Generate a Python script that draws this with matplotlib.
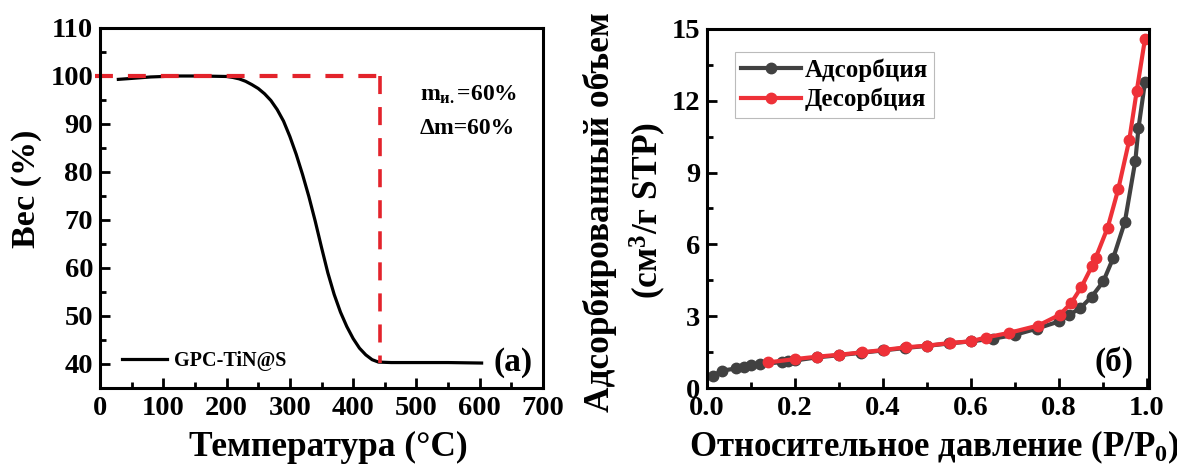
import matplotlib
matplotlib.use("Agg")
import matplotlib.pyplot as plt
from matplotlib.ticker import MultipleLocator, FormatStrFormatter

plt.rcParams['font.family'] = ['Liberation Serif', 'DejaVu Serif']
plt.rcParams['font.weight'] = 'bold'
plt.rcParams['mathtext.fontset'] = 'custom'
plt.rcParams['mathtext.rm'] = 'Liberation Serif:bold'
plt.rcParams['mathtext.it'] = 'Liberation Serif:bold'
plt.rcParams['mathtext.bf'] = 'Liberation Serif:bold'

# ---- TGA data ----
tga_temp = [29, 50, 80, 120, 157, 200, 210, 220, 230, 240, 250, 260, 270, 280, 290,
            300, 310, 320, 330, 340, 350, 360, 370, 380, 390, 400, 410, 420, 430, 440,
            460, 500, 550, 603]
tga_weight = [99.3, 99.5, 99.8, 100.0, 100.0, 99.9, 99.7, 99.4, 98.9, 98.2, 97.4, 96.3,
              94.9, 93.0, 90.6, 87.4, 83.7, 79.5, 74.9, 69.8, 64.3, 59.0, 54.5, 50.8,
              47.8, 45.3, 43.3, 41.9, 40.9, 40.4, 40.3, 40.3, 40.3, 40.2]
tga_label = 'GPC-TiN@S'
mark_temp = 442
mark_weight = 100.1
final_weight = 40.3

# ---- BET isotherm data ----
ads_p = [0.013, 0.033, 0.067, 0.083, 0.100, 0.120, 0.170, 0.184, 0.200, 0.250, 0.300,
         0.350, 0.400, 0.450, 0.500, 0.550, 0.600, 0.650, 0.700, 0.750, 0.800, 0.824,
         0.849, 0.875, 0.901, 0.924, 0.950, 0.974, 0.981, 0.996]
ads_v = [0.50, 0.72, 0.82, 0.89, 0.96, 1.00, 1.08, 1.11, 1.15, 1.28, 1.37,
         1.47, 1.57, 1.67, 1.76, 1.86, 1.95, 2.06, 2.22, 2.48, 2.78, 3.06,
         3.34, 3.82, 4.45, 5.45, 6.93, 9.50, 10.85, 12.80]
des_p = [0.996, 0.977, 0.960, 0.935, 0.911, 0.884, 0.875, 0.851, 0.828, 0.802, 0.753,
         0.686, 0.634, 0.600, 0.552, 0.501, 0.452, 0.402, 0.352, 0.301, 0.251, 0.201, 0.139]
des_v = [14.60, 12.40, 10.35, 8.30, 6.70, 5.45, 5.08, 4.21, 3.55, 3.06, 2.61,
         2.30, 2.11, 1.95, 1.88, 1.77, 1.70, 1.59, 1.49, 1.39, 1.31, 1.21, 1.07]
ads_label = 'Адсорбция'
des_label = 'Десорбция'

W, H = 1177, 470
fig = plt.figure(figsize=(W / 100, H / 100), dpi=100)

def px(x, y):
    return x / W, 1 - y / H

def style(ax):
    for s in ax.spines.values():
        s.set_linewidth(2.2)
    ax.tick_params(which='both', direction='in', width=2.0, labelsize=20.5)
    ax.tick_params(axis='x', which='major', pad=6)
    ax.tick_params(axis='y', which='major', pad=5)
    ax.tick_params(which='major', length=7)
    ax.tick_params(which='minor', length=4)
    for lab in ax.get_xticklabels() + ax.get_yticklabels():
        lab.set_fontweight('bold')

RED = '#e3232b'

# ---- left panel ----
ax1 = fig.add_axes([100 / W, 1 - 388 / H, 443 / W, 360 / H])
ax1.plot(tga_temp, tga_weight, color='black', lw=2.3, label=tga_label)
ax1.plot([-8, mark_temp], [mark_weight, mark_weight], color=RED, lw=3.0,
         dashes=(4.3, 3.6), clip_on=False)
ax1.plot([mark_temp, mark_temp], [mark_weight, final_weight], color=RED, lw=2.6,
         dashes=(5.0, 3.6))
ax1.set_xlim(0, 700)
ax1.xaxis.set_major_locator(MultipleLocator(100))
ax1.xaxis.set_minor_locator(MultipleLocator(50))
ax1.set_yticks([40, 50, 60, 70, 80, 90, 100, 110])
ax1.yaxis.set_minor_locator(MultipleLocator(5))
ax1.set_ylim(35, 110)
style(ax1)
fig.text(*px(328, 447), 'Температура (°C)', fontsize=25.5, fontweight='bold',
         ha='center', va='center')
fig.text(*px(26, 189), 'Вес (%)', fontsize=24.5, fontweight='bold',
         ha='center', va='center', rotation=90)
ax1.legend(loc='center left', frameon=False, handlelength=2.25,
           handletextpad=0.3, borderpad=0, borderaxespad=0,
           bbox_to_anchor=(0.05, 0.075), prop={'weight': 'bold', 'size': 14.5})
ax1.text(0.977, 0.072, '(a)', transform=ax1.transAxes, fontsize=24, fontweight='bold',
         ha='right', va='center')
ax1.text(0.722, 0.814, 'm$_{\\mathrm{и.}}$=60%', transform=ax1.transAxes, fontsize=17,
         fontweight='bold', ha='left', va='center')
ax1.text(0.722, 0.722, 'Δm=60%', transform=ax1.transAxes, fontsize=17,
         fontweight='bold', ha='left', va='center')

# ---- right panel ----
ax2 = fig.add_axes([707 / W, 1 - 388 / H, 442 / W, 359 / H])
ax2.plot(ads_p, ads_v, color='#414141', lw=3.0, marker='o', ms=7.5, label=ads_label)
ax2.plot(des_p, des_v, color='#ee3138', lw=3.0, marker='o', ms=7.5, label=des_label)
ax2.set_xlim(0, 1.005)
ax2.set_ylim(0, 15)
ax2.xaxis.set_major_locator(MultipleLocator(0.2))
ax2.xaxis.set_minor_locator(MultipleLocator(0.1))
ax2.yaxis.set_major_locator(MultipleLocator(3))
ax2.yaxis.set_minor_locator(MultipleLocator(1.5))
ax2.xaxis.set_major_formatter(FormatStrFormatter('%.1f'))
style(ax2)
fig.text(*px(934, 447), 'Относительное давление (P/P$_{0}$)', fontsize=25,
         fontweight='bold', ha='center', va='center')
fig.text(*px(600, 212), 'Адсорбированный объем', fontsize=25.5, fontweight='bold',
         ha='center', va='center', rotation=90)
fig.text(*px(648, 211), '(см$^{3}$/г STP)', fontsize=25.5, fontweight='bold',
         ha='center', va='center', rotation=90)
leg = ax2.legend(loc='upper left', frameon=True, fancybox=False,
                 handlelength=2.4, handletextpad=0.15, borderpad=0.25, labelspacing=0.25,
                 borderaxespad=0, bbox_to_anchor=(0.063, 0.936),
                 prop={'weight': 'bold', 'size': 18})
leg.get_frame().set_edgecolor('#aaaaaa')
leg.get_frame().set_linewidth(0.8)
ax2.text(0.964, 0.072, '(б)', transform=ax2.transAxes, fontsize=24, fontweight='bold',
         ha='right', va='center')

fig.savefig('out.png', dpi=100)
